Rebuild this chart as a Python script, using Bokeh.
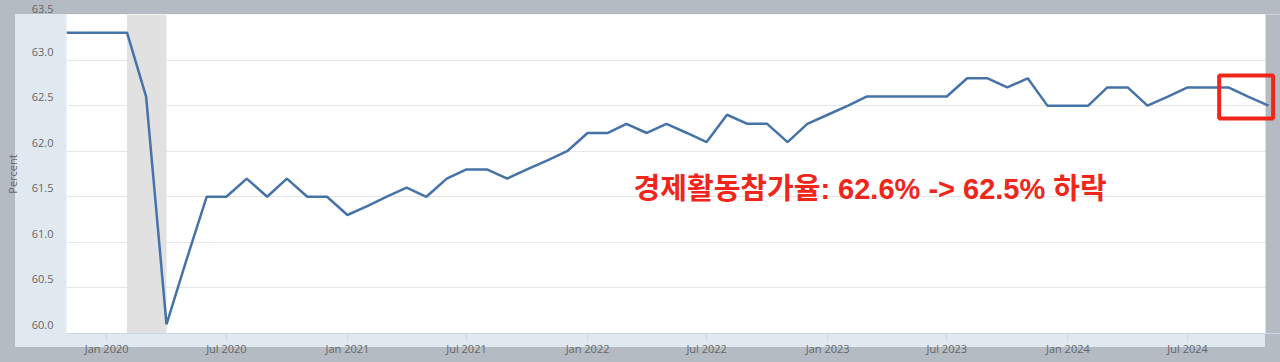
import pandas as pd
from bokeh.plotting import figure
from bokeh.models import (Range1d, FixedTicker, DatetimeTickFormatter, BoxAnnotation, Label)
from bokeh.embed import file_html
from bokeh.resources import INLINE

# ---- data ----
start_month = "2019-11-01"
values = [
    63.3, 63.3,
    63.3, 63.3, 62.6, 60.1, 60.8, 61.5, 61.5, 61.7, 61.5, 61.7, 61.5, 61.5,
    61.3, 61.4, 61.5, 61.6, 61.5, 61.7, 61.8, 61.8, 61.7, 61.8, 61.9, 62.0,
    62.2, 62.2, 62.3, 62.2, 62.3, 62.2, 62.1, 62.4, 62.3, 62.3, 62.1, 62.3,
    62.4, 62.5, 62.6, 62.6, 62.6, 62.6, 62.6, 62.8, 62.8, 62.7, 62.8, 62.5,
    62.5, 62.5, 62.7, 62.7, 62.5, 62.6, 62.7, 62.7, 62.7, 62.6, 62.5,
]
dates = pd.date_range(start_month, periods=len(values), freq="MS")
x_tick_months = ["2020-01-01", "2020-07-01", "2021-01-01", "2021-07-01", "2022-01-01",
                 "2022-07-01", "2023-01-01", "2023-07-01", "2024-01-01", "2024-07-01"]
y_ticks = [60.0, 60.5, 61.0, 61.5, 62.0, 62.5, 63.0, 63.5]
y_tick_labels = ["60.0", "60.5", "61.0", "61.5", "62.0", "62.5", "63.0", "63.5"]
recession = ("2020-02-01", "2020-04-01")
y_label = "Percent"
note_text = "경제활동참가율: 62.6% -> 62.5% 하락"
highlight = ("2024-08-18", "2024-11-08", 62.36, 62.83)

def ms(s):
    return pd.Timestamp(s).value / 1e6

DAY = 86400000.0
GRAY = "#b5bbc3"
PANEL = "#e1e9f0"
LINE = "#4572a7"
RED = "#f0261a"

x0 = ms(dates[0])
x_end = ms(dates[-1]) + 18.24 * DAY        # frame runs to the window edge
panel_end = ms(dates[-1]) - 4.56 * DAY     # where the white plot area stops

p = figure(width=1280, height=362, x_axis_type="datetime", output_backend="svg",
           toolbar_location=None, min_border_left=66, min_border_right=0,
           min_border_top=14, min_border_bottom=29,
           x_range=Range1d(x0, x_end), y_range=Range1d(y_ticks[0], y_ticks[-1]),
           border_fill_color=None, background_fill_color="white",
           outline_line_color=None)
# gray page with the light panel behind the plot
p.styles = {"background": "linear-gradient(%s, %s) 15px 14px / 1250px 333px no-repeat, %s"
            % (PANEL, PANEL, GRAY)}

# grid
p.xgrid.visible = False
p.ygrid.ticker = FixedTicker(ticks=y_ticks)
p.ygrid.grid_line_color = "#e6e6e6"
p.ygrid.grid_line_width = 1

# right edge outside the plot area
p.add_layout(BoxAnnotation(left=panel_end, fill_color=GRAY, fill_alpha=1,
                           line_color=None, level="underlay"))

# recession shading
p.add_layout(BoxAnnotation(left=ms(recession[0]), right=ms(recession[1]),
                           fill_color="#e1e1e1", fill_alpha=1, line_color=None,
                           level="underlay"))

# line
p.line(dates, values, line_color=LINE, line_width=2.5)

# x axis
xa = p.xaxis[0]
xa.ticker = FixedTicker(ticks=[ms(m) for m in x_tick_months])
xa.formatter = DatetimeTickFormatter(months="%b %Y", years="%b %Y", days="%b %Y")
xa.major_label_text_font = "Open Sans"
xa.major_label_text_font_size = "11px"
xa.major_label_text_color = "#666666"
xa.major_tick_line_color = "#ccd6eb"
xa.major_tick_out = 7
xa.major_tick_in = 0
xa.minor_tick_line_color = None
xa.minor_tick_out = 0
xa.minor_tick_in = 0
xa.axis_line_color = "#ccd6eb"
xa.major_label_standoff = 0

# y axis (labels sit slightly above their grid lines)
ya = p.yaxis[0]
ya.ticker = FixedTicker(ticks=y_ticks)
ya.major_label_overrides = {v: lab + "\n" for v, lab in zip(y_ticks, y_tick_labels)}
ya.major_label_text_font = "Open Sans"
ya.major_label_text_font_size = "11px"
ya.major_label_text_color = "#666666"
ya.major_tick_line_color = None
ya.minor_tick_line_color = None
ya.major_tick_out = 0
ya.major_tick_in = 0
ya.minor_tick_out = 0
ya.minor_tick_in = 0
ya.axis_line_color = None
ya.major_label_standoff = 13
ya.axis_label = y_label
ya.axis_label_text_font = "Open Sans"
ya.axis_label_text_font_size = "11px"
ya.axis_label_text_font_style = "normal"
ya.axis_label_text_color = "#666666"
ya.axis_label_text_line_height = 1.0
ya.axis_label_standoff = 9

# annotation text
p.add_layout(Label(x=ms("2022-03-12"), y=61.58, text=note_text,
                   text_align="left", text_baseline="middle",
                   text_font="Liberation Sans, Noto Sans CJK KR", text_font_style="bold",
                   text_font_size="29px", text_color=RED))

# highlight box
p.add_layout(BoxAnnotation(left=ms(highlight[0]), right=ms(highlight[1]),
                           bottom=highlight[2], top=highlight[3],
                           fill_color=None, fill_alpha=0, line_color=RED,
                           line_width=4, line_alpha=1, level="overlay"))

open("out.html", "w").write(file_html(p, INLINE))
